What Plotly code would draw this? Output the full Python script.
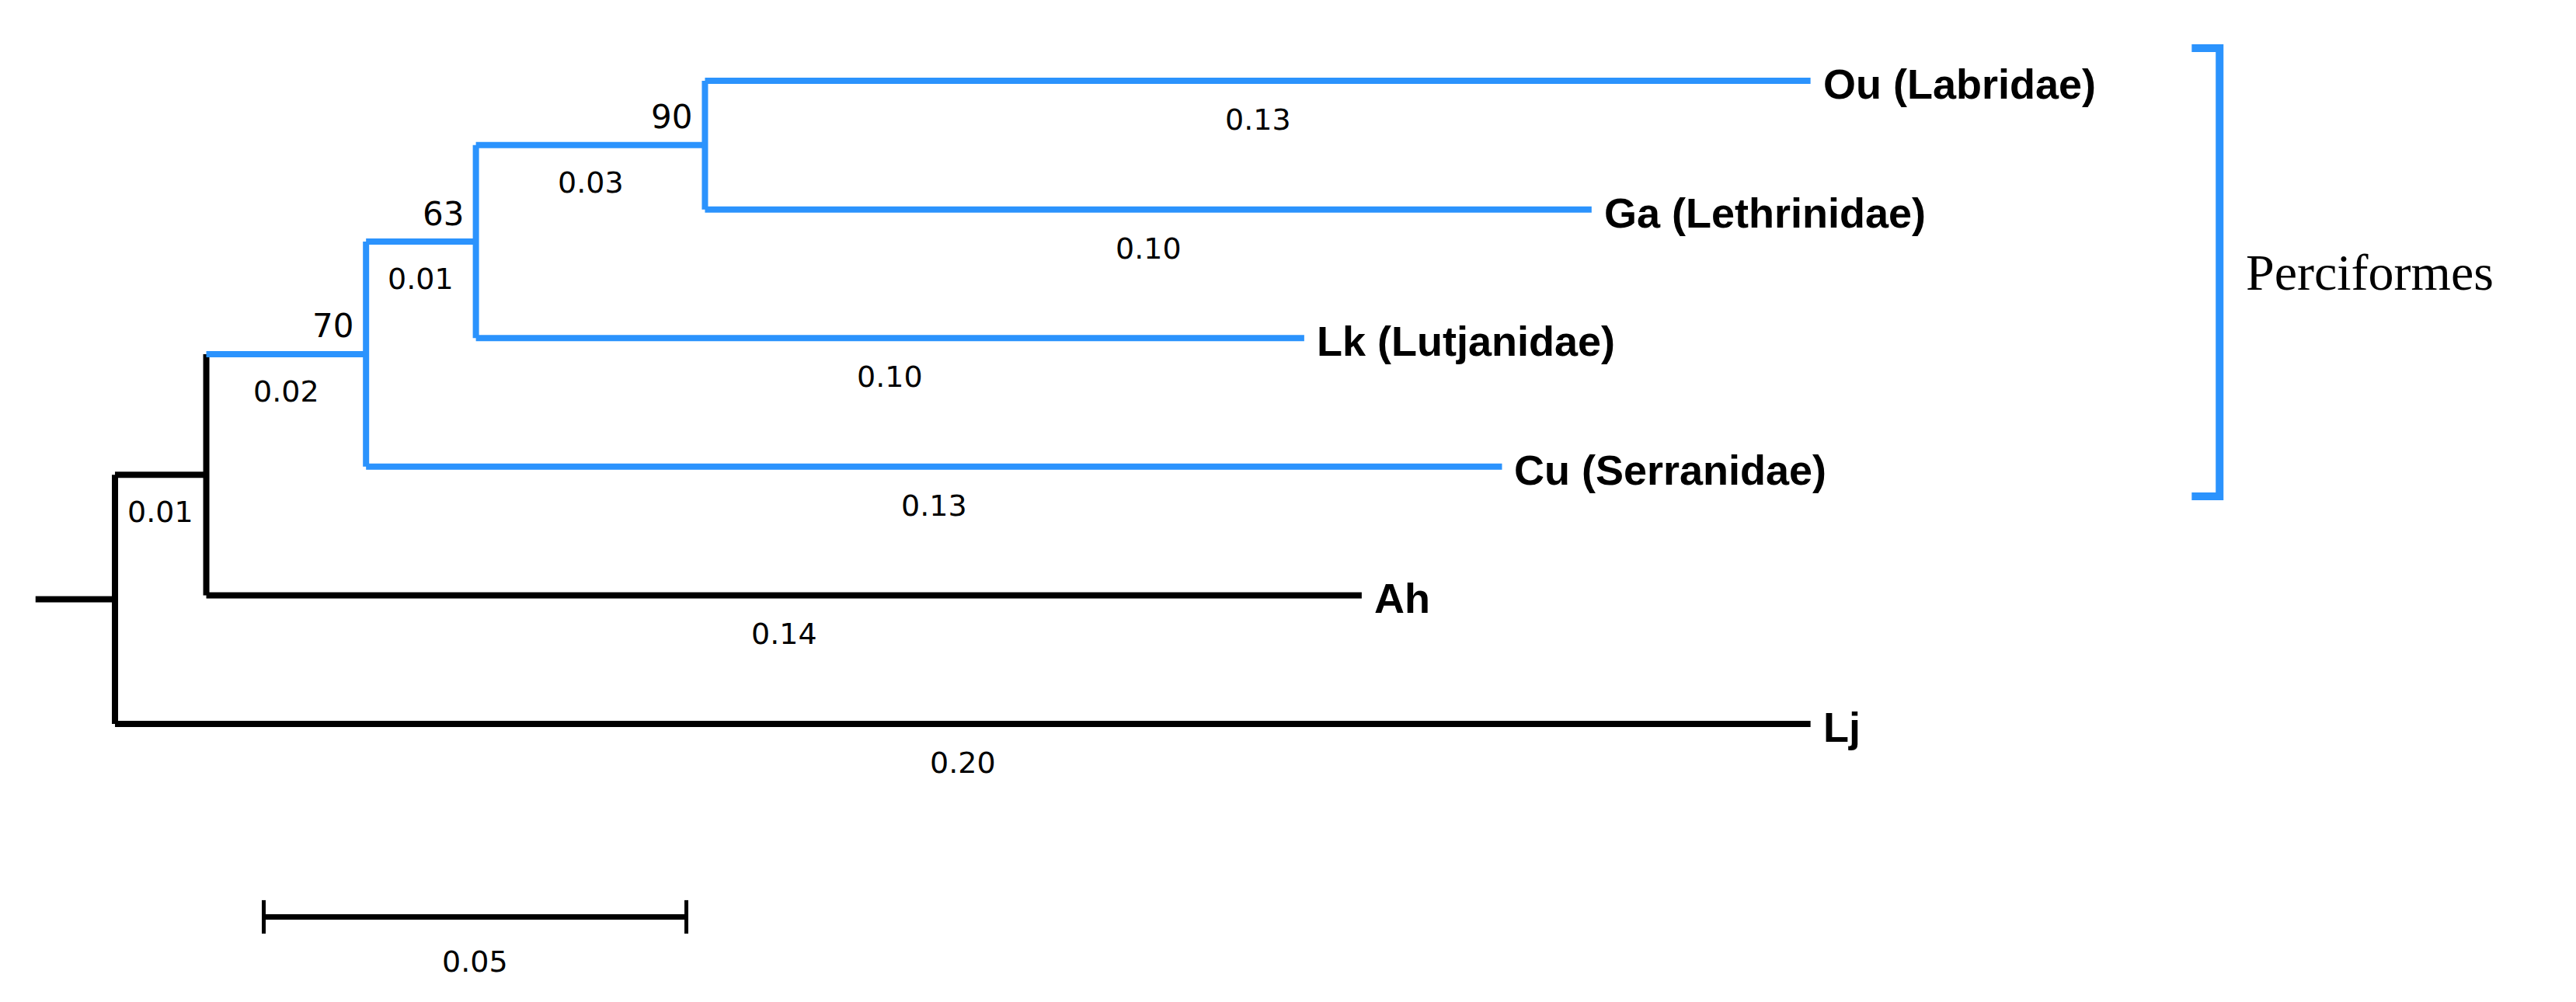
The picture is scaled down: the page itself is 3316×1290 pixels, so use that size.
"""
Rectangular phylogram of six fish taxa with branch lengths and bootstrap values.
"""

import plotly.graph_objects as go

# tree (x = cumulative branch length)
TIPS = ["Ou (Labridae)", "Ga (Lethrinidae)", "Lk (Lutjanidae)", "Cu (Serranidae)", "Ah", "Lj"]
TIP_X = [0.2006, 0.1747, 0.1407, 0.1641, 0.1475, 0.2006]
TIP_ROW = [0, 1, 2, 3, 4, 5]
TIP_LEN = ["0.13", "0.10", "0.10", "0.13", "0.14", "0.20"]

# internal nodes: name, x, children, incoming length label, bootstrap
NODES = ["root", "B", "C", "D", "E"]
NODE_X = [0.0, 0.0108, 0.0297, 0.0427, 0.0698]
NODE_CHILDREN = [["B", "Lj"], ["C", "Ah"], ["D", "Cu (Serranidae)"],
                 ["E", "Lk (Lutjanidae)"], ["Ou (Labridae)", "Ga (Lethrinidae)"]]
NODE_LEN = [None, "0.01", "0.02", "0.01", "0.03"]
NODE_BOOT = [None, None, "70", "63", "90"]
ROOT_STUB = -0.0094

BLUE_NODES = ["C", "D", "E"]
BLUE_TIPS = ["Ou (Labridae)", "Ga (Lethrinidae)", "Lk (Lutjanidae)", "Cu (Serranidae)"]

SCALE_BAR = [0.0176, 0.0676]
SCALE_LABEL = "0.05"
CLADE = "Perciformes"

BLUE = "#2B93FD"
BLACK = "#000000"

x_of = dict(zip(NODES, NODE_X)) | dict(zip(TIPS, TIP_X))
row_of = dict(zip(TIPS, TIP_ROW))


def row(name):
    if name not in row_of:
        kids = NODE_CHILDREN[NODES.index(name)]
        row_of[name] = sum(row(k) for k in kids) / 2
    return row_of[name]


row("root")
parent_of = {k: n for n, kids in zip(NODES, NODE_CHILDREN) for k in kids}

lines = {BLACK: ([], []), BLUE: ([], [])}


def seg(color, xs, ys):
    lines[color][0].extend(xs + [None])
    lines[color][1].extend(ys + [None])


seg(BLACK, [ROOT_STUB, 0.0], [row("root"), row("root")])
for n, kids in zip(NODES, NODE_CHILDREN):
    c = BLUE if n in BLUE_NODES else BLACK
    seg(c, [x_of[n], x_of[n]], [row(kids[0]), row(kids[1])])
    for k in kids:
        kc = BLUE if (k in BLUE_NODES or k in BLUE_TIPS) else BLACK
        seg(kc, [x_of[n], x_of[k]], [row(k), row(k)])

fig = go.Figure()
for color, (xs, ys) in lines.items():
    fig.add_trace(go.Scatter(x=xs, y=ys, mode="lines", hoverinfo="skip",
                             line={"color": color, "width": 8}))

num_font = {"family": "DejaVu Sans", "size": 38, "color": "black"}

for name, lab in zip(TIPS, TIP_LEN):
    p = parent_of[name]
    fig.add_annotation(x=(x_of[p] + x_of[name]) / 2, y=row(name), text=lab,
                       showarrow=False, yshift=-50, font=num_font)
    fig.add_annotation(x=x_of[name], y=row(name), text=f"<b>{name}</b>",
                       showarrow=False, xanchor="left", xshift=14, yshift=-4,
                       font={"family": "Liberation Sans Narrow, Liberation Sans",
                             "size": 54, "color": "black"})

for n, lab, boot in zip(NODES, NODE_LEN, NODE_BOOT):
    if lab is None:
        continue
    p = parent_of[n]
    fig.add_annotation(x=(x_of[p] + x_of[n]) / 2, y=row(n), text=lab,
                       showarrow=False, yshift=-48, font=num_font)
    if boot:
        fig.add_annotation(x=x_of[n], y=row(n), text=boot, showarrow=False,
                           xanchor="right", xshift=-14, yshift=36,
                           font={"family": "DejaVu Sans", "size": 42, "color": "black"})

# scale bar
sy = 6.5
fig.add_trace(go.Scatter(x=SCALE_BAR, y=[sy, sy], mode="lines", hoverinfo="skip",
                         line={"color": BLACK, "width": 7}))
for sx in SCALE_BAR:
    fig.add_trace(go.Scatter(x=[sx, sx], y=[sy - 0.13, sy + 0.13], mode="lines",
                             hoverinfo="skip", line={"color": BLACK, "width": 5}))
fig.add_annotation(x=sum(SCALE_BAR) / 2, y=sy, text=SCALE_LABEL, showarrow=False,
                   yshift=-58, font=num_font)

# clade bracket
bx, bt = 0.2490, 0.2457
fig.add_trace(go.Scatter(x=[bt, bx, bx, bt], y=[-0.254, -0.254, 3.23, 3.23],
                         mode="lines", hoverinfo="skip",
                         line={"color": BLUE, "width": 10}))
fig.add_annotation(x=0.2519, y=1.49, text=CLADE, showarrow=False, xanchor="left",
                   font={"family": "Liberation Serif", "size": 66, "color": "black"})

fig.update_layout(
    width=3316, height=1290,
    margin={"l": 0, "r": 0, "t": 0, "b": 0},
    plot_bgcolor="white", paper_bgcolor="white",
    showlegend=False,
    xaxis={"range": [-0.01287, 0.2919], "visible": False},
    yaxis={"range": [7.21, -0.58], "visible": False},
)

fig.write_html("out.html")
